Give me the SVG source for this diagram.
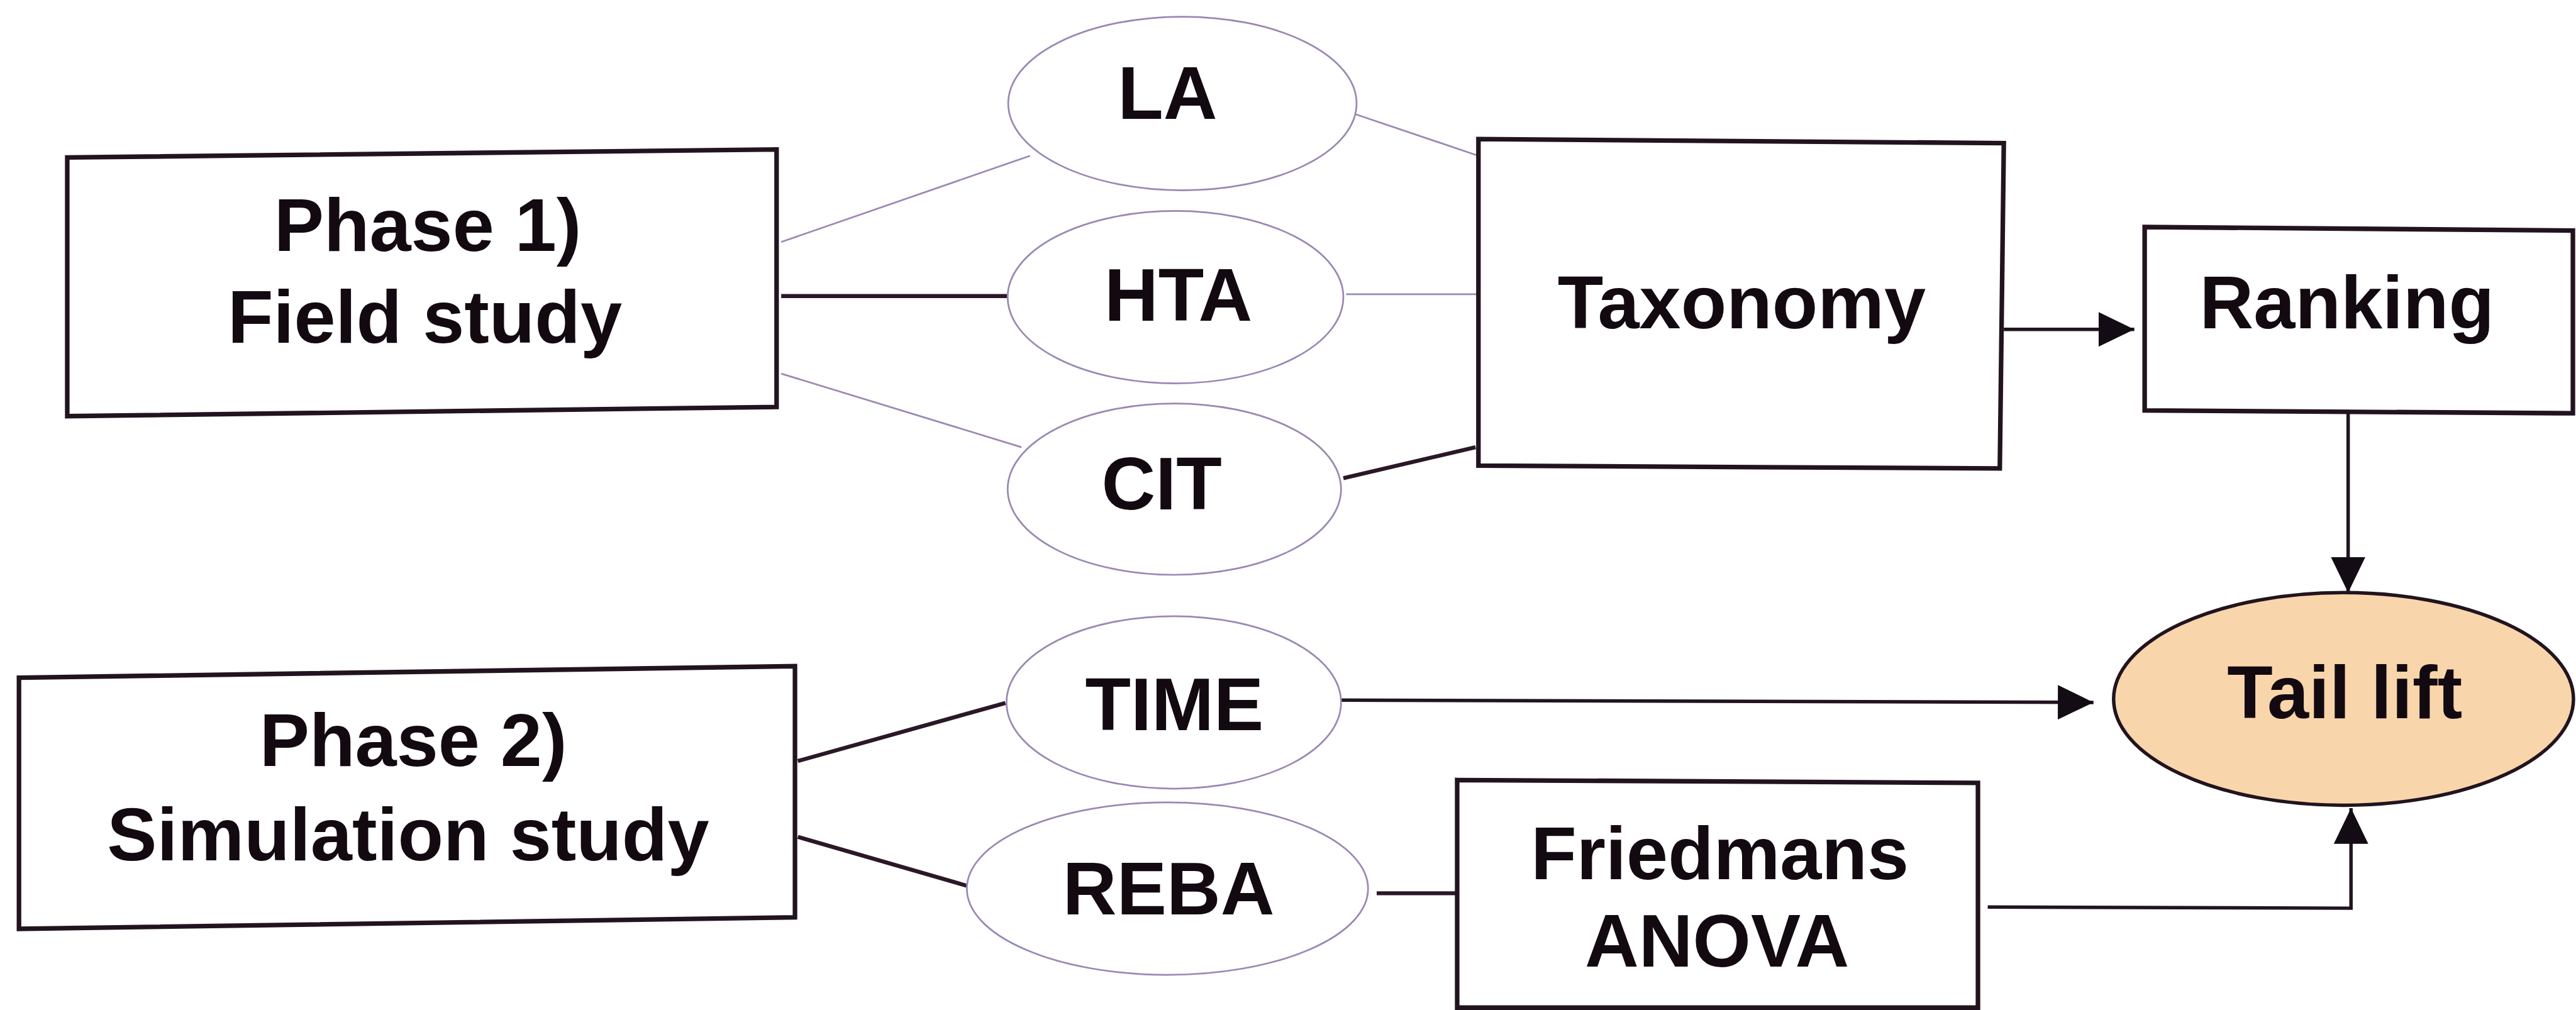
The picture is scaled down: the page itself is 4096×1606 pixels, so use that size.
<svg xmlns="http://www.w3.org/2000/svg" width="4096" height="1606" viewBox="0 0 4096 1606">
<defs>
<marker id="ah" markerUnits="userSpaceOnUse" markerWidth="62" markerHeight="60" refX="62" refY="30" orient="auto">
<path d="M0,0 L62,30 L0,60 z" fill="#140c14"/>
</marker>
<style>
.box{fill:#ffffff;stroke:#21141f;stroke-width:8;stroke-linejoin:miter}
.ell{fill:#ffffff;stroke:#9a88b4;stroke-width:3}
.tail{fill:#f9d5ab;stroke:#21141f;stroke-width:6}
.thin{stroke:#9a88b4;stroke-width:3;fill:none}
.thick{stroke:#2a1828;stroke-width:7;fill:none}
.arr{stroke:#21141f;stroke-width:6;fill:none;marker-end:url(#ah)}
.t{font-family:"Liberation Sans",Arial,Helvetica,sans-serif;font-weight:bold;font-size:130px;fill:#120a10;text-anchor:middle}
</style>
</defs>
<rect x="0" y="0" width="4096" height="1606" fill="#ffffff"/>
<g transform="scale(0.914)">
<g id="connectors">
<line class="thin" x1="1359" y1="421" x2="1792" y2="271"/>
<line class="thin" x1="1359" y1="650" x2="1777" y2="778"/>
<line class="thin" x1="2356" y1="198" x2="2572" y2="271"/>
<line class="thin" x1="2342" y1="512" x2="2572" y2="512"/>
<line class="thick" x1="1359" y1="515" x2="1754" y2="515"/>
<line class="thick" x1="2337" y1="832" x2="2567" y2="778"/>
<line class="thick" x1="1388" y1="1324" x2="1749" y2="1223"/>
<line class="thick" x1="1388" y1="1456" x2="1682" y2="1541"/>
<line class="thick" x1="2395" y1="1554" x2="2533" y2="1554"/>
<line class="arr" x1="3486" y1="573" x2="3713" y2="573"/>
<line class="arr" x1="4085" y1="719" x2="4085" y2="1031"/>
<line class="arr" x1="2328" y1="1218" x2="3642" y2="1222"/>
<polyline class="arr" points="3458,1578 4090,1580 4090,1406"/>
</g>
<g id="phase1">
<polygon class="box" points="117,274 1351,260 1351,708 117,724"/>
<text class="t" x="744" y="437">Phase 1)</text>
<text class="t" x="739" y="596">Field study</text>
</g>
<g id="phase2">
<polygon class="box" points="33,1179 1383,1159 1383,1596 33,1616"/>
<text class="t" x="719" y="1333">Phase 2)</text>
<text class="t" x="710" y="1497">Simulation study</text>
</g>
<g id="la">
<ellipse class="ell" cx="2057" cy="180" rx="303" ry="151"/>
<text class="t" x="2031" y="207">LA</text>
</g>
<g id="hta">
<ellipse class="ell" cx="2045" cy="517" rx="292" ry="150"/>
<text class="t" x="2050" y="558">HTA</text>
</g>
<g id="cit">
<ellipse class="ell" cx="2043" cy="851" rx="290" ry="149"/>
<text class="t" x="2021" y="886">CIT</text>
</g>
<g id="time">
<ellipse class="ell" cx="2042" cy="1222" rx="291" ry="150"/>
<text class="t" x="2043" y="1270">TIME</text>
</g>
<g id="reba">
<ellipse class="ell" cx="2031" cy="1546" rx="349" ry="150"/>
<text class="t" x="2033" y="1591">REBA</text>
</g>
<g id="taxonomy">
<polygon class="box" points="2572,242 3486,249 3479,815 2572,810"/>
<text class="t" x="3030" y="571">Taxonomy</text>
</g>
<g id="ranking">
<polygon class="box" points="3731,395 4476,401 4476,719 3731,714"/>
<text class="t" x="4083" y="571">Ranking</text>
</g>
<g id="friedmans">
<polygon class="box" points="2535,1357 3441,1362 3441,1753 2535,1753"/>
<text class="t" x="2992" y="1529">Friedmans</text>
<text class="t" x="2987" y="1682">ANOVA</text>
</g>
<g id="taillift">
<ellipse class="tail" cx="4077" cy="1216" rx="400" ry="185"/>
<text class="t" x="4079" y="1249">Tail lift</text>
</g>
</g>
</svg>
